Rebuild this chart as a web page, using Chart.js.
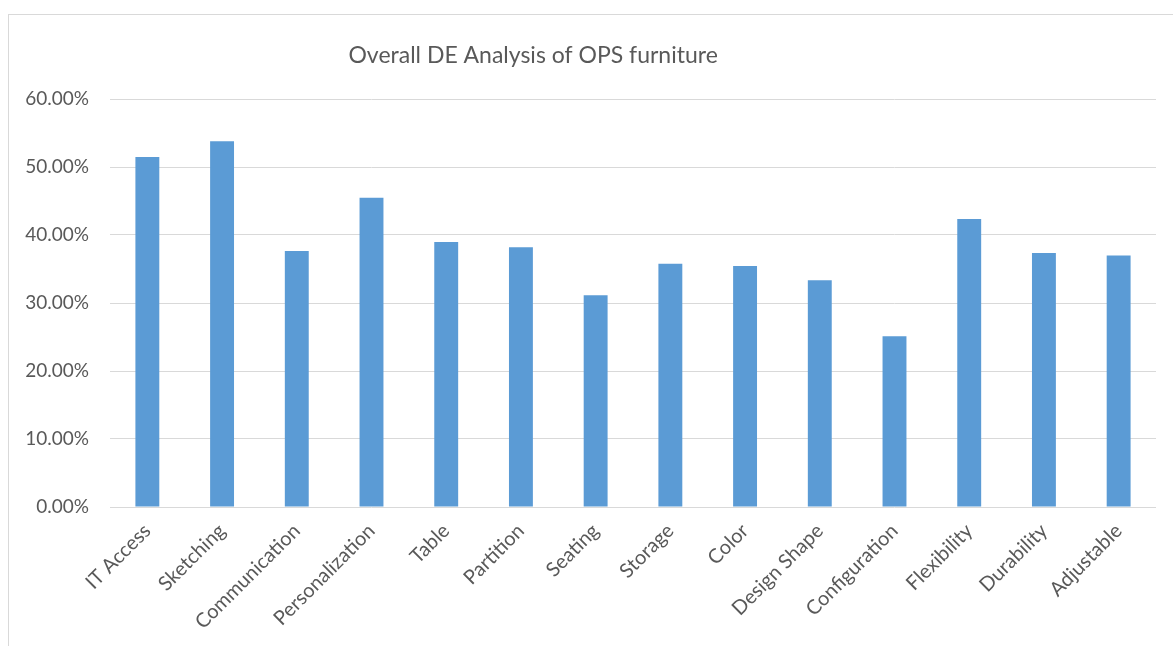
<!DOCTYPE html>
<html>
<head>
<meta charset="utf-8">
<script src="https://cdn.jsdelivr.net/npm/chart.js@4.4.1/dist/chart.umd.min.js"></script>
<style>
    html, body { margin: 0; padding: 0; background: #fff; }
    #wrap { position: relative; width: 1173px; height: 646px; overflow: hidden; }
    #frame { position: absolute; left: 8px; top: 14px; width: 1200px; height: 700px; border: 1px solid #D9D9D9; }
    #chart { position: absolute; left: 0; top: 0; }
</style>
</head>
<body>
<div id="wrap">
    <div id="frame"></div>
    <canvas id="chart" width="1173" height="646"></canvas>
</div>
<script>
// Catégories et valeurs
const categories = ['IT Access', 'Sketching', 'Communication', 'Personalization', 'Table', 'Partition',
    'Seating', 'Storage', 'Color', 'Design Shape', 'Configuration', 'Flexibility', 'Durability', 'Adjustable'];
const values = [0.5146, 0.538, 0.3766, 0.4546, 0.3898, 0.382, 0.3113, 0.3579, 0.3545, 0.3334, 0.251, 0.4237, 0.3736, 0.3697];
const yTicks = [0, 0.1, 0.2, 0.3, 0.4, 0.5, 0.6];
const titleText = 'Overall DE Analysis of OPS furniture';

const textColor = '#595959';
const gridColor = '#D9D9D9';
const fontName = 'Lato';

// Titre dessiné à la main (décalé à gauche comme dans Excel)
const titlePlugin = {
    id: 'titleLeft',
    afterDraw(chart) {
        const c = chart.ctx;
        c.save();
        c.font = '23px ' + fontName;
        c.fillStyle = textColor;
        c.textAlign = 'center';
        c.textBaseline = 'middle';
        c.fillText(titleText, chart.width * 0.4545, 56);
        c.restore();
    }
};

const ctx = document.getElementById('chart').getContext('2d');
new Chart(ctx, {
    type: 'bar',
    data: {
        labels: categories,
        datasets: [{
            data: values,
            backgroundColor: '#5B9BD5',
            borderWidth: 0,
            barPercentage: 0.32,
            categoryPercentage: 1
        }]
    },
    options: {
        responsive: false,
        animation: false,
        layout: { padding: { left: 0, right: 17, top: 99, bottom: 0 } },
        plugins: {
            legend: { display: false },
            tooltip: { enabled: false }
        },
        scales: {
            x: {
                grid: { display: false, drawTicks: false },
                border: { display: false },
                ticks: {
                    color: textColor,
                    font: { family: fontName, size: 20 },
                    minRotation: 45,
                    maxRotation: 45,
                    autoSkip: false,
                    padding: 12
                },
                afterFit(scale) { scale.height = 139; }
            },
            y: {
                min: 0,
                max: 0.6,
                grid: { color: gridColor, lineWidth: 1, drawTicks: false },
                border: { display: false },
                afterBuildTicks(scale) { scale.ticks = yTicks.map(v => ({ value: v })); },
                ticks: {
                    color: textColor,
                    font: { family: fontName, size: 19 },
                    padding: 21,
                    callback: v => (v * 100).toFixed(2) + '%'
                },
                afterFit(scale) { scale.width = 110; }
            }
        }
    },
    plugins: [titlePlugin]
});
</script>
</body>
</html>
